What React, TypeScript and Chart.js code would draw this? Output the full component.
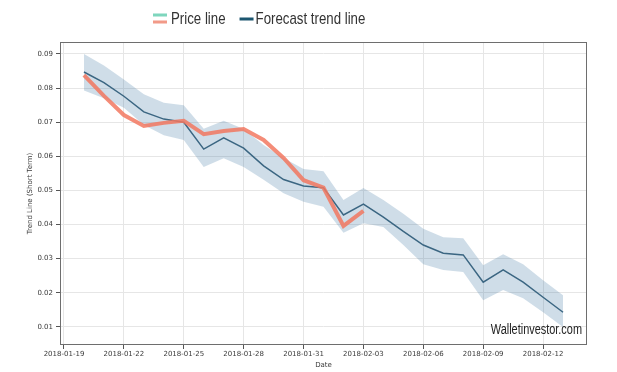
import React, { useEffect, useRef } from "react";
import { Chart, registerables } from "chart.js";

Chart.register(...registerables);

const dates = [
  "2018-01-20", "2018-01-21", "2018-01-22", "2018-01-23", "2018-01-24",
  "2018-01-25", "2018-01-26", "2018-01-27", "2018-01-28", "2018-01-29",
  "2018-01-30", "2018-01-31", "2018-02-01", "2018-02-02", "2018-02-03",
  "2018-02-04", "2018-02-05", "2018-02-06", "2018-02-07", "2018-02-08",
  "2018-02-09", "2018-02-10", "2018-02-11", "2018-02-12", "2018-02-13",
];

const forecast = [
  0.0847, 0.0816, 0.0776, 0.073, 0.0709, 0.07, 0.0621, 0.0654, 0.0624, 0.0572,
  0.0532, 0.0513, 0.0508, 0.0428, 0.046, 0.0422, 0.038, 0.034, 0.0316, 0.0311,
  0.0231, 0.0267, 0.0231, 0.0187, 0.0143,
];

const upper = [
  0.09, 0.0866, 0.0825, 0.0782, 0.0757, 0.075, 0.0681, 0.0704, 0.068, 0.0633,
  0.0595, 0.0563, 0.0556, 0.0472, 0.0507, 0.0472, 0.0432, 0.0388, 0.0363, 0.036,
  0.0281, 0.0313, 0.0284, 0.0237, 0.0193,
];

const lower = [
  0.0793, 0.077, 0.0742, 0.0692, 0.0662, 0.0648, 0.0569, 0.0594, 0.0569, 0.0531,
  0.0492, 0.0467, 0.0452, 0.0376, 0.0404, 0.0393, 0.034, 0.0284, 0.0267, 0.0261,
  0.0178, 0.0208, 0.0184, 0.0143, 0.01,
];

const price = [
  0.0838, 0.0777, 0.0721, 0.0689, 0.0698, 0.0704, 0.0665, 0.0674, 0.068, 0.0648,
  0.0595, 0.053, 0.0508, 0.0396, 0.044,
];

const xTickLabels = [
  "2018-01-19", "2018-01-22", "2018-01-25", "2018-01-28", "2018-01-31",
  "2018-02-03", "2018-02-06", "2018-02-09", "2018-02-12",
];

const yTicks = [0.01, 0.02, 0.03, 0.04, 0.05, 0.06, 0.07, 0.08, 0.09];

const legendLabels = ["Price line", "Forecast trend line"];
const watermark = "Walletinvestor.com";
const yTitle = "Trend Line (Short Term)";
const xTitle = "Date";

const BASE = Date.UTC(2018, 0, 19);
const dayOf = (s: string) => {
  const [y, m, d] = s.split("-").map(Number);
  return (Date.UTC(y, m - 1, d) - BASE) / 86400000;
};
const labelOf = (day: number) => {
  const dt = new Date(BASE + Math.round(day) * 86400000);
  return dt.toISOString().slice(0, 10);
};

const pts = (vals: number[]) => vals.map((v, i) => ({ x: dayOf(dates[i]), y: v }));

const SANS = "'Liberation Sans', Arial, sans-serif";
const TICKFONT = "'DejaVu Sans', sans-serif";
const SQUEEZE = 0.78;

// draws text horizontally condensed; returns drawn width
function narrowText(ctx: any, text: string, x: number, y: number, align: "left" | "right") {
  const w = ctx.measureText(text).width * SQUEEZE;
  const startX = align === "left" ? x : x - w;
  ctx.save();
  ctx.translate(startX, y);
  ctx.scale(SQUEEZE, 1);
  ctx.textAlign = "left";
  ctx.fillText(text, 0, 0);
  ctx.restore();
  return w;
}

const decorPlugin = {
  id: "decor",
  afterDatasetsDraw(chart: any) {
    const { ctx, chartArea } = chart;
    ctx.save();
    ctx.strokeStyle = "#6e6e6e";
    ctx.lineWidth = 1;
    ctx.strokeRect(
      Math.round(chartArea.left) + 0.5,
      Math.round(chartArea.top) + 0.5,
      Math.round(chartArea.right - chartArea.left) - 1,
      Math.round(chartArea.bottom - chartArea.top) - 1
    );
    ctx.fillStyle = "#222";
    ctx.font = `14px ${SANS}`;
    ctx.textBaseline = "middle";
    narrowText(ctx, watermark, chartArea.right - 5, chartArea.bottom - 15, "right");
    ctx.restore();
  },
  afterDraw(chart: any) {
    const { ctx } = chart;
    ctx.save();
    ctx.font = `17px ${SANS}`;
    ctx.textBaseline = "middle";
    const cy = 19.5;
    let x = 153;
    ctx.fillStyle = "#7ed6bd";
    ctx.fillRect(x, 13.5, 14, 3);
    ctx.fillStyle = "#f29a88";
    ctx.fillRect(x, 20.5, 14, 3);
    ctx.fillStyle = "#333";
    const w0 = narrowText(ctx, legendLabels[0], x + 18, cy, "left");
    x = x + 18 + w0 + 14;
    ctx.fillStyle = "#1c5670";
    ctx.fillRect(x, 17.5, 14, 3);
    ctx.fillStyle = "#333";
    narrowText(ctx, legendLabels[1], x + 16, cy, "left");
    ctx.restore();
  },
};

export default function App() {
  const ref = useRef<HTMLCanvasElement | null>(null);
  useEffect(() => {
    if (!ref.current) return;
    const chart = new Chart(ref.current, {
      type: "line",
      data: {
        datasets: [
          {
            label: legendLabels[0],
            data: pts(price),
            borderColor: "rgba(242,120,96,0.85)",
            borderWidth: 4,
            pointRadius: 0,
            fill: false,
            tension: 0,
            order: 0,
          },
          {
            label: legendLabels[1],
            data: pts(forecast),
            borderColor: "#3b6682",
            borderWidth: 1.5,
            pointRadius: 0,
            fill: false,
            tension: 0,
            order: 1,
          },
          {
            label: "upper",
            data: pts(upper),
            borderWidth: 0,
            borderColor: "rgba(0,0,0,0)",
            pointRadius: 0,
            fill: false,
            order: 2,
          },
          {
            label: "lower",
            data: pts(lower),
            borderWidth: 0,
            borderColor: "rgba(0,0,0,0)",
            backgroundColor: "rgba(70,125,165,0.26)",
            pointRadius: 0,
            fill: "-1",
            order: 3,
          },
        ],
      },
      options: {
        animation: false,
        responsive: false,
        maintainAspectRatio: false,
        layout: { padding: { left: 18, top: 42, right: 30, bottom: 0 } },
        plugins: {
          legend: { display: false },
          tooltip: { enabled: false },
        },
        scales: {
          x: {
            type: "linear",
            min: -0.2,
            max: 26.2,
            afterBuildTicks: (scale: any) => {
              scale.ticks = xTickLabels.map((l) => ({ value: dayOf(l) }));
            },
            afterFit: (scale: any) => {
              scale.height = 27;
            },
            ticks: {
              callback: (v: any) => labelOf(Number(v)),
              font: { family: TICKFONT, size: 7 },
              color: "#3a3a3a",
              padding: 1,
              maxRotation: 0,
              autoSkip: false,
            },
            grid: {
              color: "#e6e6e6",
              tickColor: "#555",
              tickLength: 4,
            },
            border: { display: false },
            title: {
              display: true,
              text: xTitle,
              font: { family: TICKFONT, size: 7 },
              color: "#3a3a3a",
              padding: { top: 0, bottom: 3 },
            },
          },
          y: {
            type: "linear",
            min: 0.0047,
            max: 0.0935,
            afterBuildTicks: (scale: any) => {
              scale.ticks = yTicks.map((v) => ({ value: v }));
            },
            afterFit: (scale: any) => {
              scale.width = 42;
            },
            ticks: {
              callback: (v: any) => Number(v).toFixed(2),
              font: { family: TICKFONT, size: 7 },
              color: "#3a3a3a",
              padding: 3,
            },
            grid: {
              color: "#e6e6e6",
              tickColor: "#555",
              tickLength: 4,
            },
            border: { display: false },
            title: {
              display: true,
              text: yTitle,
              font: { family: TICKFONT, size: 7 },
              color: "#3a3a3a",
              padding: { top: 8, bottom: 0 },
            },
          },
        },
      } as any,
      plugins: [decorPlugin],
    });
    return () => chart.destroy();
  }, []);
  return (
    <div style={{ position: "fixed", left: 0, top: 0, width: 617, height: 372, background: "#fff" }}>
      <canvas ref={ref} width={617} height={372} style={{ width: 617, height: 372 }} />
    </div>
  );
}
